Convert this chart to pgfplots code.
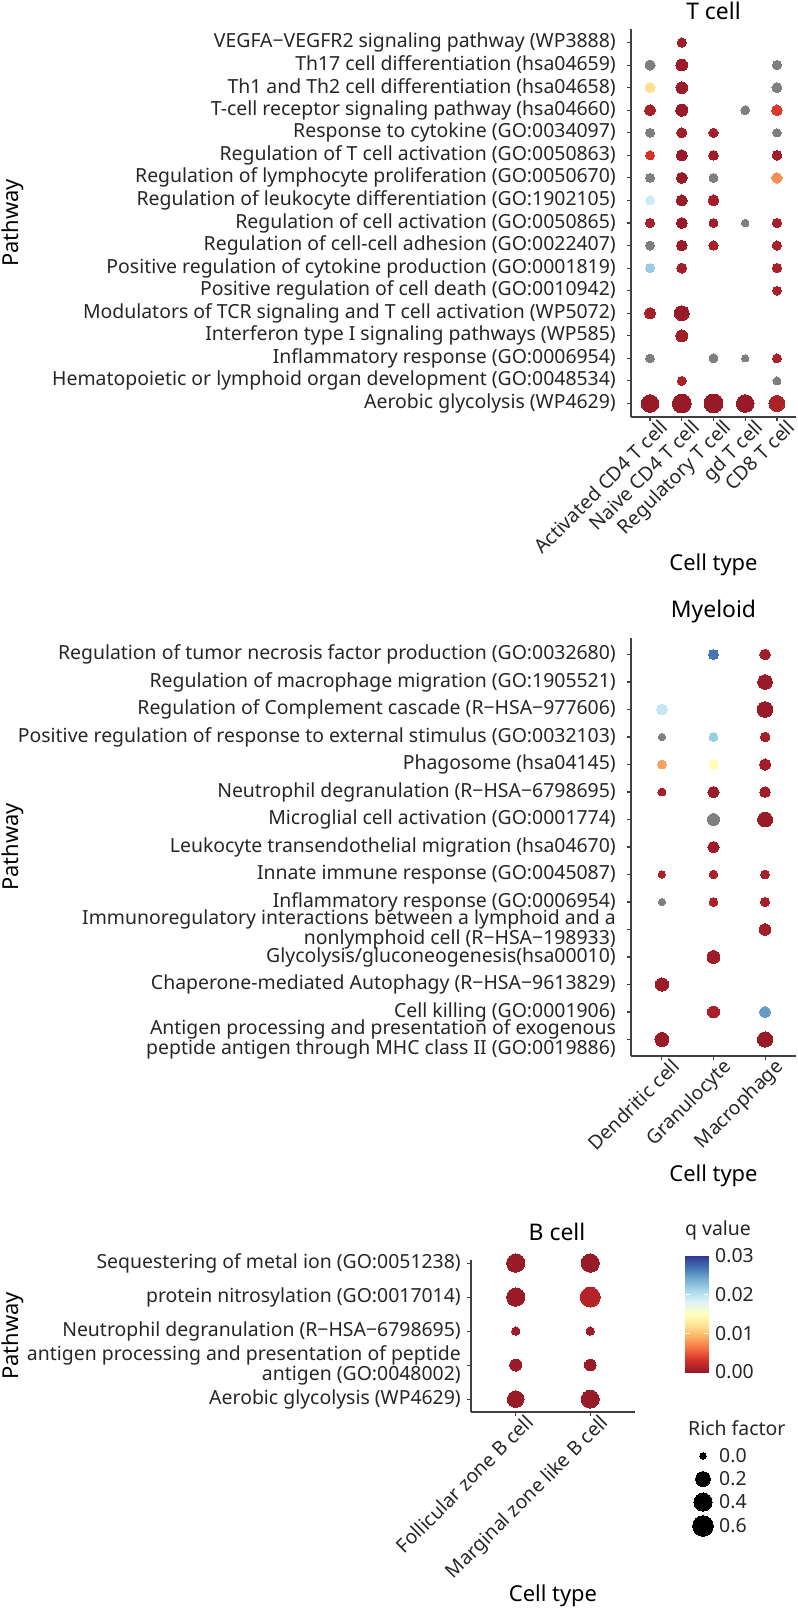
\documentclass[border=0pt]{standalone}
\usepackage{fontspec}
\setmainfont{Noto Sans}
\usepackage{pgfplots}
\pgfplotsset{compat=1.18}
\definecolor{grey50}{HTML}{7F7F7F}
\definecolor{axisgrey}{HTML}{404040}
\newcommand{\tickfont}{\fontsize{19.5}{20}\selectfont}
\newcommand{\labfont}{\fontsize{22}{24}\selectfont}
\tikzset{leglab/.style={anchor=west, inner sep=0pt, font=\tickfont, text=black!85}}
\pgfplotsset{
 colormap={rdylbu}{rgb255=(150,25,40) rgb255=(215,48,39) rgb255=(244,109,67) rgb255=(253,174,97) rgb255=(254,224,144) rgb255=(255,255,191) rgb255=(224,243,248) rgb255=(171,217,233) rgb255=(116,173,209) rgb255=(69,117,180) rgb255=(49,54,149)},
 dotpanel/.style={
   scale only axis, clip=false,
   axis x line*=bottom, axis y line*=left,
   axis line style={-, axisgrey, line width=1.1bp},
   tick style={axisgrey, line width=1.1bp},
   tick align=outside, major tick length=4bp,
   colormap name=rdylbu, point meta min=0, point meta max=0.03,
   ticklabel style={font=\tickfont, text=black!85},
   yticklabel style={align=right, inner sep=0pt, xshift=-11bp},
   xticklabel style={rotate=45, anchor=north east, inner sep=0pt, xshift=8bp, yshift=-4bp},
   xlabel style={font=\labfont, anchor=center},
   ylabel style={font=\labfont, anchor=center},
   title style={font=\fontsize{23}{25}\selectfont, anchor=center},
   /pgf/number format/assume math mode=true,
 },
 dots/.style={scatter, only marks, mark=*, point meta=explicit,
   scatter/use mapped color={draw=mapped color, fill=mapped color, line width=0pt},
   visualization depends on={\thisrow{rf} \as \rf},
   scatter/@pre marker code/.append style={/tikz/mark size={(6.7+18.2*sqrt(\rf))/2}}},
 greydots/.style={scatter, only marks, mark=*, point meta=explicit,
   scatter/use mapped color={draw=grey50, fill=grey50, line width=0pt},
   visualization depends on={\thisrow{rf} \as \rf},
   scatter/@pre marker code/.append style={/tikz/mark size={(6.7+18.2*sqrt(\rf))/2}}},
 blackdots/.style={scatter, only marks, mark=*, point meta=explicit,
   scatter/use mapped color={draw=black, fill=black, line width=0pt},
   visualization depends on={\thisrow{rf} \as \rf},
   scatter/@pre marker code/.append style={/tikz/mark size={(6.7+18.2*sqrt(\rf))/2}}},
}
\begin{document}
\begin{tikzpicture}
\path[use as bounding box] (0,0) rectangle (798bp,-1611bp);

% ---------------- T cell ----------------
\begin{axis}[dotpanel,
  at={(631bp,-417bp)}, anchor=south west,
  width=165bp, height=388bp,
  xmin=0.4, xmax=5.6, ymin=0.4, ymax=17.6,
  xtick={1,...,5}, ytick={1,...,17},
  xticklabels={Activated CD4 T cell, Naive CD4 T cell, Regulatory T cell, gd T cell, CD8 T cell},
  yticklabels={Aerobic glycolysis (WP4629),
    Hematopoietic or lymphoid organ development (GO:0048534),
    Inflammatory response (GO:0006954),
    Interferon type I signaling pathways (WP585),
    Modulators of TCR signaling and T cell activation (WP5072),
    Positive regulation of cell death (GO:0010942),
    Positive regulation of cytokine production (GO:0001819),
    Regulation of cell-cell adhesion (GO:0022407),
    Regulation of cell activation (GO:0050865),
    Regulation of leukocyte differentiation (GO:1902105),
    Regulation of lymphocyte proliferation (GO:0050670),
    Regulation of T cell activation (GO:0050863),
    Response to cytokine (GO:0034097),
    T-cell receptor signaling pathway (hsa04660),
    Th1 and Th2 cell differentiation (hsa04658),
    Th17 cell differentiation (hsa04659),
    VEGFA−VEGFR2 signaling pathway (WP3888)},
  title={T cell}, title style={at={(axis description cs:0.5,1)}, yshift=12bp},
  xlabel={Cell type}, xlabel style={at={(axis description cs:0.5,0)}, yshift=-148bp},
  ylabel={Pathway}, ylabel style={at={(axis description cs:-3.745,0.5)}},
]
\addplot[greydots] table[x=x,y=y,meta=rf] {
x y rf
1 16 0.033
5 16 0.020
5 15 0.033
4 14 0.016
1 13 0.016
5 13 0.008
1 11 0.016
3 11 0.016
4 9 0.002
1 8 0.016
1 3 0.012
3 3 0.016
4 3 0.001
5 2 0.005
};
\addplot[dots] table[x=x,y=y,meta=q] {
x y rf q
2 17 0.020 0.0005
2 16 0.075 0.0003
1 15 0.033 0.0120
2 15 0.075 0.0003
1 14 0.056 0.0008
2 14 0.085 0.0001
5 14 0.048 0.0035
2 13 0.033 0.0005
3 13 0.020 0.0008
1 12 0.016 0.0030
2 12 0.064 0.0001
3 12 0.027 0.0005
5 12 0.027 0.0005
2 11 0.056 0.0002
5 11 0.039 0.0075
1 10 0.016 0.0190
2 10 0.056 0.0002
3 10 0.056 0.0006
1 9 0.016 0.0008
2 9 0.056 0.0001
3 9 0.016 0.0006
5 9 0.024 0.0007
2 8 0.048 0.0003
3 8 0.020 0.0009
5 8 0.020 0.0008
1 7 0.016 0.0220
2 7 0.033 0.0006
5 7 0.020 0.0009
5 6 0.016 0.0010
1 5 0.064 0.0008
2 5 0.208 0.0001
2 4 0.085 0.0005
5 3 0.016 0.0010
2 2 0.016 0.0010
1 1 0.365 0.0001
2 1 0.457 0.0001
3 1 0.457 0.0001
4 1 0.365 0.0001
5 1 0.261 0.0010
};
\end{axis}

% ---------------- Myeloid ----------------
\begin{axis}[dotpanel,
  at={(631bp,-1056bp)}, anchor=south west,
  width=165bp, height=418bp,
  xmin=0.4, xmax=3.6, ymin=0.4, ymax=15.6,
  xtick={1,...,3}, ytick={1,...,15},
  xticklabels={Dendritic cell, Granulocyte, Macrophage},
  yticklabels={{Antigen processing and presentation of exogenous\\peptide antigen through MHC class II (GO:0019886)},
    Cell killing (GO:0001906),
    Chaperone-mediated Autophagy (R−HSA−9613829),
    Glycolysis/gluconeogenesis(hsa00010),
    {Immunoregulatory interactions between a lymphoid and a\\nonlymphoid cell (R−HSA−198933)},
    Inflammatory response (GO:0006954),
    Innate immune response (GO:0045087),
    Leukocyte transendothelial migration (hsa04670),
    Microglial cell activation (GO:0001774),
    Neutrophil degranulation (R−HSA−6798695),
    Phagosome (hsa04145),
    Positive regulation of response to external stimulus (GO:0032103),
    Regulation of Complement cascade (R−HSA−977606),
    Regulation of macrophage migration (GO:1905521),
    Regulation of tumor necrosis factor production (GO:0032680)},
  title={Myeloid}, title style={at={(axis description cs:0.5,1)}, yshift=20bp},
  xlabel={Cell type}, xlabel style={at={(axis description cs:0.5,0)}, yshift=-120bp},
  ylabel={Pathway}, ylabel style={at={(axis description cs:-3.745,0.5)}},
]
\addplot[greydots] table[x=x,y=y,meta=rf] {
x y rf
1 12 0.001
2 9 0.085
1 6 0.0003
};
\addplot[dots] table[x=x,y=y,meta=q] {
x y rf q
2 15 0.033 0.0270
3 15 0.048 0.0005
3 14 0.193 0.0002
1 13 0.056 0.0195
3 13 0.245 0.0001
2 12 0.012 0.0220
3 12 0.027 0.0008
1 11 0.016 0.0085
2 11 0.033 0.0148
3 11 0.064 0.0005
1 10 0.005 0.0008
2 10 0.064 0.0002
3 10 0.048 0.0004
3 9 0.208 0.0002
2 8 0.064 0.0004
1 7 0.001 0.0010
2 7 0.008 0.0010
3 7 0.016 0.0008
2 6 0.012 0.0010
3 6 0.016 0.0008
3 5 0.075 0.0006
2 4 0.120 0.0004
1 3 0.131 0.0003
2 2 0.085 0.0009
3 2 0.056 0.0250
1 1 0.161 0.0002
3 1 0.223 0.0001
};
\end{axis}

% ---------------- B cell (with both legends in its coordinate system) ----------------
\begin{axis}[dotpanel,
  at={(471bp,-1412bp)}, anchor=south west,
  width=164bp, height=152bp,
  xmin=0.4, xmax=2.6, ymin=0.62, ymax=5.09,
  xtick={1,2}, ytick={1,...,5},
  yticklabel style={xshift=5bp},
  xticklabels={Follicular zone B cell, Marginal zone like B cell},
  yticklabels={Aerobic glycolysis (WP4629),
    {antigen processing and presentation of peptide\\antigen (GO:0048002)},
    Neutrophil degranulation (R−HSA−6798695),
    protein nitrosylation (GO:0017014),
    Sequestering of metal ion (GO:0051238)},
  title={B cell}, title style={at={(axis description cs:0.5,1)}, yshift=22bp, xshift=4bp},
  xlabel={Cell type}, xlabel style={at={(axis description cs:0.5,0)}, yshift=-184bp},
  ylabel={Pathway}, ylabel style={at={(axis description cs:-2.793,0.5)}},
]
% q value colour bar (q from 0 to 0.03)
\addplot[surf, shader=interp, mesh/cols=2, point meta=\thisrow{q}] table {
x y q
3.2707 1.7963 0
3.5793 1.7963 0
3.2707 2.1374 0.003
3.5793 2.1374 0.003
3.2707 2.4786 0.006
3.5793 2.4786 0.006
3.2707 2.8197 0.009
3.5793 2.8197 0.009
3.2707 3.1609 0.012
3.5793 3.1609 0.012
3.2707 3.5020 0.015
3.5793 3.5020 0.015
3.2707 3.8431 0.018
3.5793 3.8431 0.018
3.2707 4.1843 0.021
3.5793 4.1843 0.021
3.2707 4.5254 0.024
3.5793 4.5254 0.024
3.2707 4.8666 0.027
3.5793 4.8666 0.027
3.2707 5.2077 0.03
3.5793 5.2077 0.03
};
\addplot[white, line width=1bp, unbounded coords=jump] coordinates {
(3.2707,2.9334) (3.3311,2.9334) (nan,nan)
(3.5189,2.9334) (3.5793,2.9334) (nan,nan)
(3.2707,4.0706) (3.3311,4.0706) (nan,nan)
(3.5189,4.0706) (3.5793,4.0706)
};
\node[leglab] at (axis cs:3.2707,5.9723) {q value};
\node[leglab, xshift=7bp] at (axis cs:3.5793,5.2077) {0.03};
\node[leglab, xshift=7bp] at (axis cs:3.5793,4.0706) {0.02};
\node[leglab, xshift=7bp] at (axis cs:3.5793,2.9334) {0.01};
\node[leglab, xshift=7bp] at (axis cs:3.5793,1.7963) {0.00};
% Rich factor size legend
\addplot[blackdots] table[x=x,y=y,meta=rf] {
x y rf
3.5122 -0.6740 0.0
3.5122 -1.3504 0.2
3.5122 -2.0268 0.4
3.5122 -2.7325 0.6
};
\node[leglab] at (axis cs:3.3110,0.1495) {Rich factor};
\node[leglab] at (axis cs:3.7269,-0.6740) {0.0};
\node[leglab] at (axis cs:3.7269,-1.3504) {0.2};
\node[leglab] at (axis cs:3.7269,-2.0268) {0.4};
\node[leglab] at (axis cs:3.7269,-2.7325) {0.6};
% data
\addplot[dots] table[x=x,y=y,meta=q] {
x y rf q
1 5 0.406 0.0002
2 5 0.406 0.0002
1 4 0.406 0.0002
2 4 0.534 0.0015
1 3 0.008 0.0004
2 3 0.008 0.0004
1 2 0.085 0.0003
2 2 0.075 0.0003
1 1 0.302 0.0002
2 1 0.386 0.0002
};
\end{axis}
\end{tikzpicture}
\end{document}
